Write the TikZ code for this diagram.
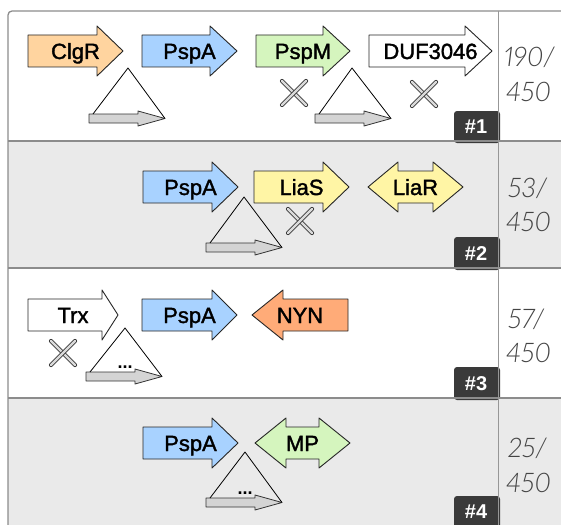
\documentclass[tikz,border=0pt]{standalone}
\usepackage{fontspec}
\setmainfont{Liberation Sans}
\newfontfamily\genefont{Liberation Sans}[FakeBold=1.6]
\newfontfamily\numfont{Lato Light Italic}[Numbers=Proportional]
\definecolor{cOrange}{HTML}{FFD49F}
\definecolor{cBlue}{HTML}{A8D2FF}
\definecolor{cGreen}{HTML}{D5F5BE}
\definecolor{cYellow}{HTML}{FFF5A5}
\definecolor{cSalmon}{HTML}{FFAB78}
\definecolor{cRowGray}{HTML}{EAEAEA}
\definecolor{cFrame}{HTML}{8C8C8C}
\definecolor{cBadge}{HTML}{3A3A3A}
\definecolor{cNum}{HTML}{444444}
\definecolor{cProm}{HTML}{D4D4D4}
\definecolor{cKnock}{HTML}{3C3C3C}
\definecolor{cKnockIn}{HTML}{DADADA}
\tikzset{
  genebox/.style={draw=black!85, line width=0.9pt, line join=round},
  genelabel/.style={anchor=base, inner sep=0pt, text=black, font=\genefont\fontsize{22}{26}\selectfont},
  promfill/.style={draw=black!80, fill=cProm, line width=0.8pt, line join=round},
  triline/.style={draw=black, line width=0.8pt, line join=round},
  knockx/.style={draw=cKnock, double=cKnockIn, double distance=2.4pt, line width=0.9pt, line cap=round},
  framel/.style={draw=cFrame, line width=1.3pt},
  divline/.style={draw=cFrame!90, line width=1pt},
  badge/.style={fill=cBadge, rounded corners=3pt},
  badgetext/.style={anchor=base, inner sep=0pt, text=white, font=\bfseries\fontsize{20}{24}\selectfont},
  numtext/.style={anchor=base west, inner sep=0pt, text=cNum, font=\numfont\fontsize{27}{30}\selectfont},
  dotstext/.style={anchor=base, inner sep=0pt, font=\bfseries\fontsize{18}{20}\selectfont},
}
% forward gene: x1 x2 headstart yc colour name label
\newcommand\genefwd[7]{%
  \draw[genebox, fill=#5] ({#1},{#4-16}) -- ({#3},{#4-16}) -- ({#3},{#4-25}) -- ({#2},{#4})
    -- ({#3},{#4+25}) -- ({#3},{#4+16}) -- ({#1},{#4+16}) -- cycle;
  \node[genelabel] (#6) at ({(#1+#2)/2},{#4+8}) {#7};}
% reverse gene: xtip xright headbase yc colour name label
\newcommand\generev[7]{%
  \draw[genebox, fill=#5] ({#2},{#4-16}) -- ({#3},{#4-16}) -- ({#3},{#4-25}) -- ({#1},{#4})
    -- ({#3},{#4+25}) -- ({#3},{#4+16}) -- ({#2},{#4+16}) -- cycle;
  \node[genelabel] (#6) at ({(#1+#2)/2},{#4+8}) {#7};}
% double gene: xl xr headleft headright yc colour name label
\newcommand\genedbl[8]{%
  \draw[genebox, fill=#6] ({#1},{#5}) -- ({#3},{#5-25}) -- ({#3},{#5-16}) -- ({#4},{#5-16})
    -- ({#4},{#5-25}) -- ({#2},{#5}) -- ({#4},{#5+25}) -- ({#4},{#5+16}) -- ({#3},{#5+16})
    -- ({#3},{#5+25}) -- cycle;
  \node[genelabel] (#7) at ({(#1+#2)/2},{#5+8}) {#8};}
% promoter: name x0 ytop apexx apexy
\newcommand\promoter[5]{%
  \coordinate (#1-apex) at (#4,#5);
  \coordinate (#1-tip) at ({#2+76},{#3+4.5});
  \coordinate (#1-base) at ({#2+4},{#3});
  \draw[promfill] ({#2},{#3}) -- ({#2+49},{#3}) -- ({#2+49},{#3-3}) -- (#1-tip)
    -- ({#2+49},{#3+12}) -- ({#2+49},{#3+9}) -- ({#2},{#3+9}) -- cycle;
  \draw[triline] (#1-base) -- (#1-apex) -- (#1-tip);}
% knock-out cross: name x y
\newcommand\knock[3]{%
  \coordinate (#1) at (#2,#3);
  \draw[knockx] ({#2-12},{#3-12}) -- ({#2+12},{#3+12});
  \draw[knockx] ({#2-12},{#3+12}) -- ({#2+12},{#3-12});}
\begin{document}
\begin{tikzpicture}[x=1pt,y=-1pt]
\useasboundingbox (0,0) rectangle (561,524);
\clip (0,0) rectangle (561,524);
\fill[white] (0,0) rectangle (561,524);
% row backgrounds
\fill[cRowGray] (8,141) rectangle (570,268);
\fill[cRowGray] (8,398) rectangle (570,530);
% badges
\fill[badge] (454,111) rectangle (500,143);
\fill[badge] (454,237) rectangle (500,270);
\fill[badge] (454,367) rectangle (500,400);
\fill[badge] (454,496) rectangle (500,530);
\node[badgetext] (b1) at (476,133) {\#1};
\node[badgetext] (b2) at (476,260) {\#2};
\node[badgetext] (b3) at (476,390) {\#3};
\node[badgetext] (b4) at (476,518) {\#4};
% frame
\draw[framel, rounded corners=4pt] (570,11) -- (8,11) -- (8,530);
\draw[framel] (8,141) -- (570,141);
\draw[framel] (8,268) -- (570,268);
\draw[framel] (8,398) -- (570,398);
\draw[divline] (498,11) -- (498,530);
% row 1
\genefwd{28}{123}{97}{51}{cOrange}{g-clgr}{ClgR}
\genefwd{142}{237}{210}{51}{cBlue}{g-pspa1}{PspA}
\genefwd{256}{350}{323}{51}{cGreen}{g-pspm}{PspM}
\genefwd{369}{492}{465}{51}{white}{g-duf}{DUF3046}
\promoter{p1}{89}{114}{128}{68}
\promoter{p2}{315}{114}{352}{68}
\knock{k1}{294}{93}
\knock{k2}{424}{94}
% row 2
\genefwd{143}{238}{212}{187}{cBlue}{g-pspa2}{PspA}
\genefwd{254}{349}{323}{187}{cYellow}{g-lias}{LiaS}
\genedbl{368}{463}{398}{433}{187}{cYellow}{g-liar}{LiaR}
\promoter{p3}{206}{243}{244}{197}
\knock{k3}{300}{221}
% row 3
\genefwd{28}{118}{102}{315}{white}{g-trx}{Trx}
\genefwd{142}{237}{212}{315}{cBlue}{g-pspa3}{PspA}
\generev{252}{348}{283}{315}{cSalmon}{g-nyn}{NYN}
\promoter{p4}{86}{372}{125}{328}
\node[dotstext] (d4) at (125,368) {...};
\knock{k4}{63}{353}
% row 4
\genefwd{143}{238}{212}{443}{cBlue}{g-pspa4}{PspA}
\genedbl{255}{350}{286}{319}{443}{cGreen}{g-mp}{MP}
\promoter{p5}{206}{498}{245}{452}
\node[dotstext] (d5) at (245,494) {...};
% counts
\node[numtext] (n1a) at (504,67) {190/};
\node[numtext] (n1b) at (506,101) {450};
\node[numtext] (n2a) at (508,197) {53/};
\node[numtext] (n2b) at (506,231) {450};
\node[numtext] (n3a) at (508,328) {57/};
\node[numtext] (n3b) at (506,362) {450};
\node[numtext] (n4a) at (508,457) {25/};
\node[numtext] (n4b) at (506,492) {450};
\end{tikzpicture}
\end{document}
